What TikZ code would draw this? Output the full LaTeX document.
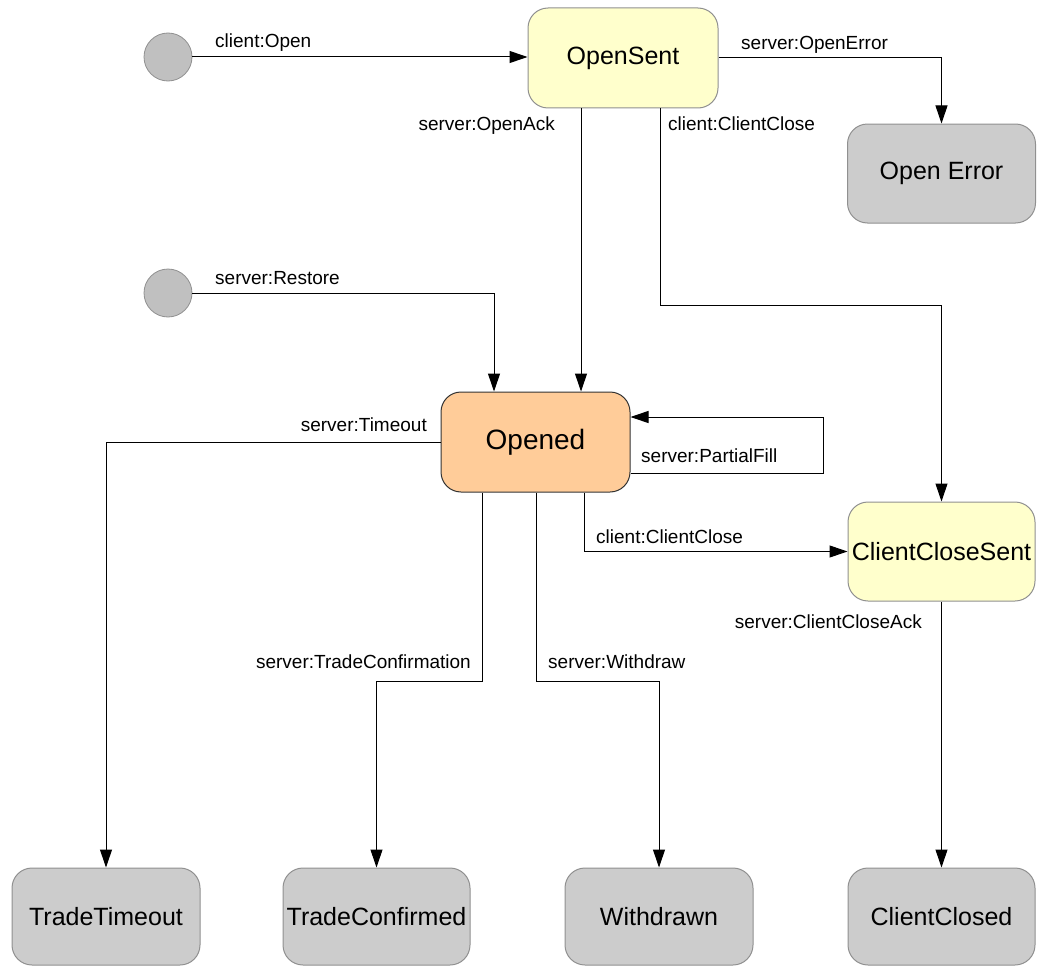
\documentclass[tikz,border=0pt]{standalone}
\usepackage{fontspec}
\setmainfont{Liberation Sans}
\usetikzlibrary{arrows.meta}
\definecolor{stYellow}{HTML}{FFFFCC}
\definecolor{stGray}{HTML}{CCCCCC}
\definecolor{stPeach}{HTML}{FFCC99}
\definecolor{stBorder}{HTML}{909090}
\definecolor{initFill}{HTML}{C0C0C0}
\tikzset{
  state/.style={draw=stBorder, line width=1pt, rounded corners=20pt, minimum width=188pt, minimum height=99pt, inner sep=0pt, font=\fontsize{25}{29}\selectfont},
  yellowstate/.style={state, fill=stYellow},
  graystate/.style={state, fill=stGray},
  initstate/.style={circle, draw=stBorder, fill=initFill, minimum size=48pt, inner sep=0pt, line width=0.8pt},
  trans/.style={draw=black, line width=1pt, -{Triangle[length=18pt,width=12pt]}},
  lbl/.style={anchor=base west, inner sep=0pt, font=\fontsize{19}{22}\selectfont},
}
\begin{document}
\begin{tikzpicture}[x=1pt,y=-1pt]
\useasboundingbox (0,0) rectangle (1037,966);
% states
\node[initstate] (i1) at (168,57) {};
\node[initstate] (i2) at (168,293) {};
\node[yellowstate, minimum width=190pt, minimum height=100pt] (opensent) at (623,58) {OpenSent};
\node[graystate] (openerror) at (941.5,173.5) {Open Error};
\node[state, fill=stPeach, draw=black!80, minimum width=189pt, minimum height=100pt, font=\fontsize{28}{32}\selectfont] (opened) at (535.5,442) {Opened};
\node[yellowstate, minimum width=187pt] (ccsent) at (941.5,551.5) {ClientCloseSent};
\node[graystate, minimum height=97pt] (timeout) at (106,916.5) {TradeTimeout};
\node[graystate, minimum width=187pt, minimum height=97pt] (confirmed) at (376.5,916.5) {TradeConfirmed};
\node[graystate, minimum height=97pt] (withdrawn) at (659,916.5) {Withdrawn};
\node[graystate, minimum width=187pt, minimum height=97pt] (ccclosed) at (941.5,916.5) {ClientClosed};
% helper coordinates
\coordinate (ccy) at (0,305);
\coordinate (loopx) at (823,0);
\coordinate (boty) at (0,681);
% transitions
\draw[trans] (i1.east) -- (i1 -| opensent.west);
\draw[trans] (opensent.east) -| (openerror.north);
\draw[trans] ([xshift=-42pt]opensent.south) -- ([xshift=-42pt]opensent.south |- opened.north);
\draw[trans] ([xshift=37pt]opensent.south) -- ([xshift=37pt]opensent.south |- ccy) -| (ccsent.north);
\draw[trans] (i2.east) -| ([xshift=-41.5pt]opened.north);
\draw[trans] (opened.west) -| (timeout.north);
\draw[trans] ([yshift=-31pt]opened.east) -- ([yshift=-31pt]opened.east -| loopx) -- ([yshift=25pt]opened.east -| loopx) -- ([yshift=25pt]opened.east);
\draw[trans] ([xshift=48.5pt]opened.south) |- (ccsent.west);
\draw[trans] (ccsent.south) -- (ccclosed.north);
\draw[trans] ([xshift=-53.5pt]opened.south) -- ([xshift=-53.5pt]opened.south |- boty) -| (confirmed.north);
\draw[trans] ([xshift=0.5pt]opened.south) -- ([xshift=0.5pt]opened.south |- boty) -| (withdrawn.north);
% labels
\node[lbl] (l1) at (215,48) {client:Open};
\node[lbl, anchor=base east] (l2) at (555,131) {server:OpenAck};
\node[lbl] (l3) at (741,50) {server:OpenError};
\node[lbl] (l4) at (668,131) {client:ClientClose};
\node[lbl] (l5) at (215,284) {server:Restore};
\node[lbl, anchor=base east] (l6) at (427,431) {server:Timeout};
\node[lbl] (l7) at (641,462) {server:PartialFill};
\node[lbl] (l8) at (596,543) {client:ClientClose};
\node[lbl, anchor=base east] (l9) at (922,628) {server:ClientCloseAck};
\node[lbl, anchor=base east] (l10) at (471,668) {server:TradeConfirmation};
\node[lbl] (l11) at (548,668) {server:Withdraw};
\end{tikzpicture}
\end{document}
